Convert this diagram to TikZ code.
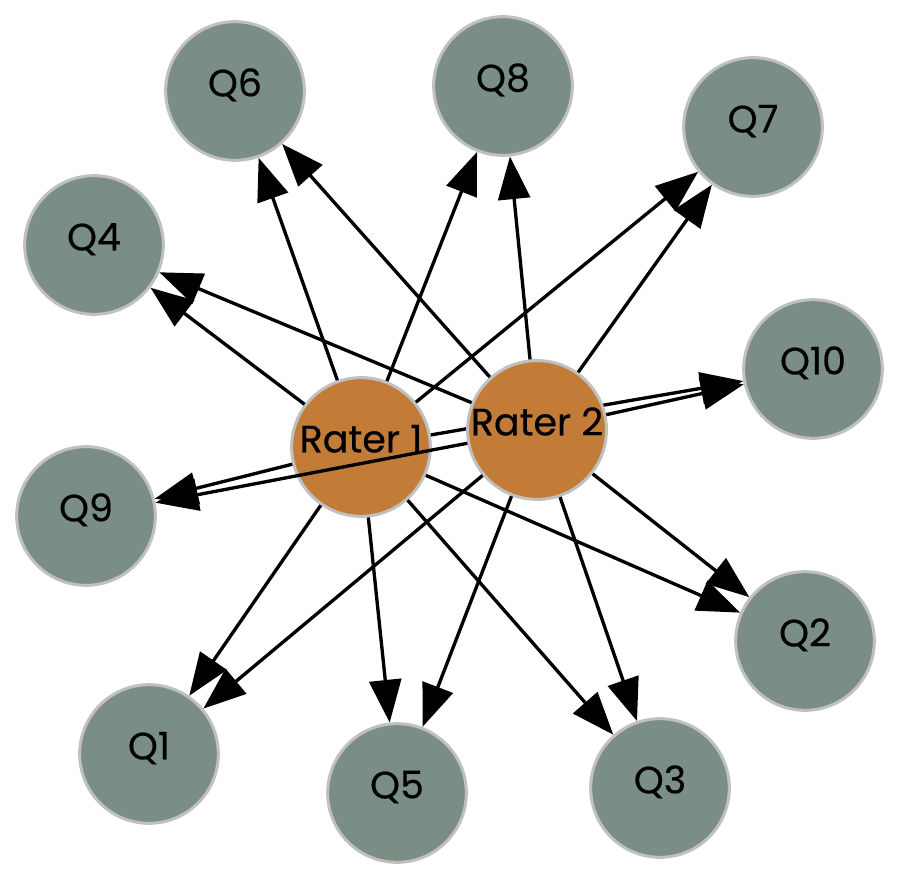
\documentclass[tikz,border=0pt]{standalone}
\usepackage{fontspec}
\setmainfont{Poppins}
\newfontfamily\labelfont{Poppins}[FakeBold=0.5]
\usetikzlibrary{arrows.meta}

\definecolor{qgreen}{RGB}{122,142,134}
\definecolor{ratebrown}{RGB}{194,124,56}
\definecolor{rimgray}{RGB}{192,192,192}

\tikzset{every picture/.style={line width=0.75pt}}
\tikzset{
  qnode/.style={circle, draw=rimgray, fill=qgreen, line width=2.25pt, minimum size=104pt, inner sep=0pt,
    font=\labelfont\fontsize{28.5}{34}\selectfont, text height=20pt, text depth=12pt},
  ratenode/.style={qnode, fill=ratebrown},
  edge/.style={-{Triangle[length=32pt,width=24pt]}, line width=2.5pt}
}

\begin{document}
\begin{tikzpicture}[x=0.75pt,y=0.75pt,yscale=-1,xscale=1]
\useasboundingbox (0,0) rectangle (900,880);

%Shape: Circle  questions
\node [qnode] (q6) at (235,91) {Q6};
\node [qnode] (q8) at (503,86) {Q8};
\node [qnode] (q7) at (753,127) {Q7};
\node [qnode] (q4) at (94,245) {Q4};
\node [qnode] (q10) at (813,369) {Q10};
\node [qnode] (q9) at (86,516) {Q9};
\node [qnode] (q1) at (149,754) {Q1};
\node [qnode] (q5) at (397,793) {Q5};
\node [qnode] (q3) at (660,788) {Q3};
\node [qnode] (q2) at (805,641) {Q2};

%Shape: Circle  first rater
\node [ratenode] (r1) at (361,447) {Rater 1};

%Straight Lines  first rater to questions
\draw [edge] (r1) -- (q6);
\draw [edge] (r1) -- (q8);
\draw [edge] (r1) -- (q7);
\draw [edge] (r1) -- (q4);
\draw [edge] (r1) -- (q10);
\draw [edge] (r1) -- (q9);
\draw [edge] (r1) -- (q1);
\draw [edge] (r1) -- (q5);
\draw [edge] (r1) -- (q3);
\draw [edge] (r1) -- (q2);

%Shape: Circle  second rater
\node [ratenode] (r2) at (537,430) {Rater 2};

%Straight Lines  second rater to questions
\draw [edge] (r2) -- (q6);
\draw [edge] (r2) -- (q8);
\draw [edge] (r2) -- (q7);
\draw [edge] (r2) -- (q4);
\draw [edge] (r2) -- (q10);
\draw [edge] (r2) -- (q9);
\draw [edge] (r2) -- (q1);
\draw [edge] (r2) -- (q5);
\draw [edge] (r2) -- (q3);
\draw [edge] (r2) -- (q2);

\end{tikzpicture}
\end{document}
